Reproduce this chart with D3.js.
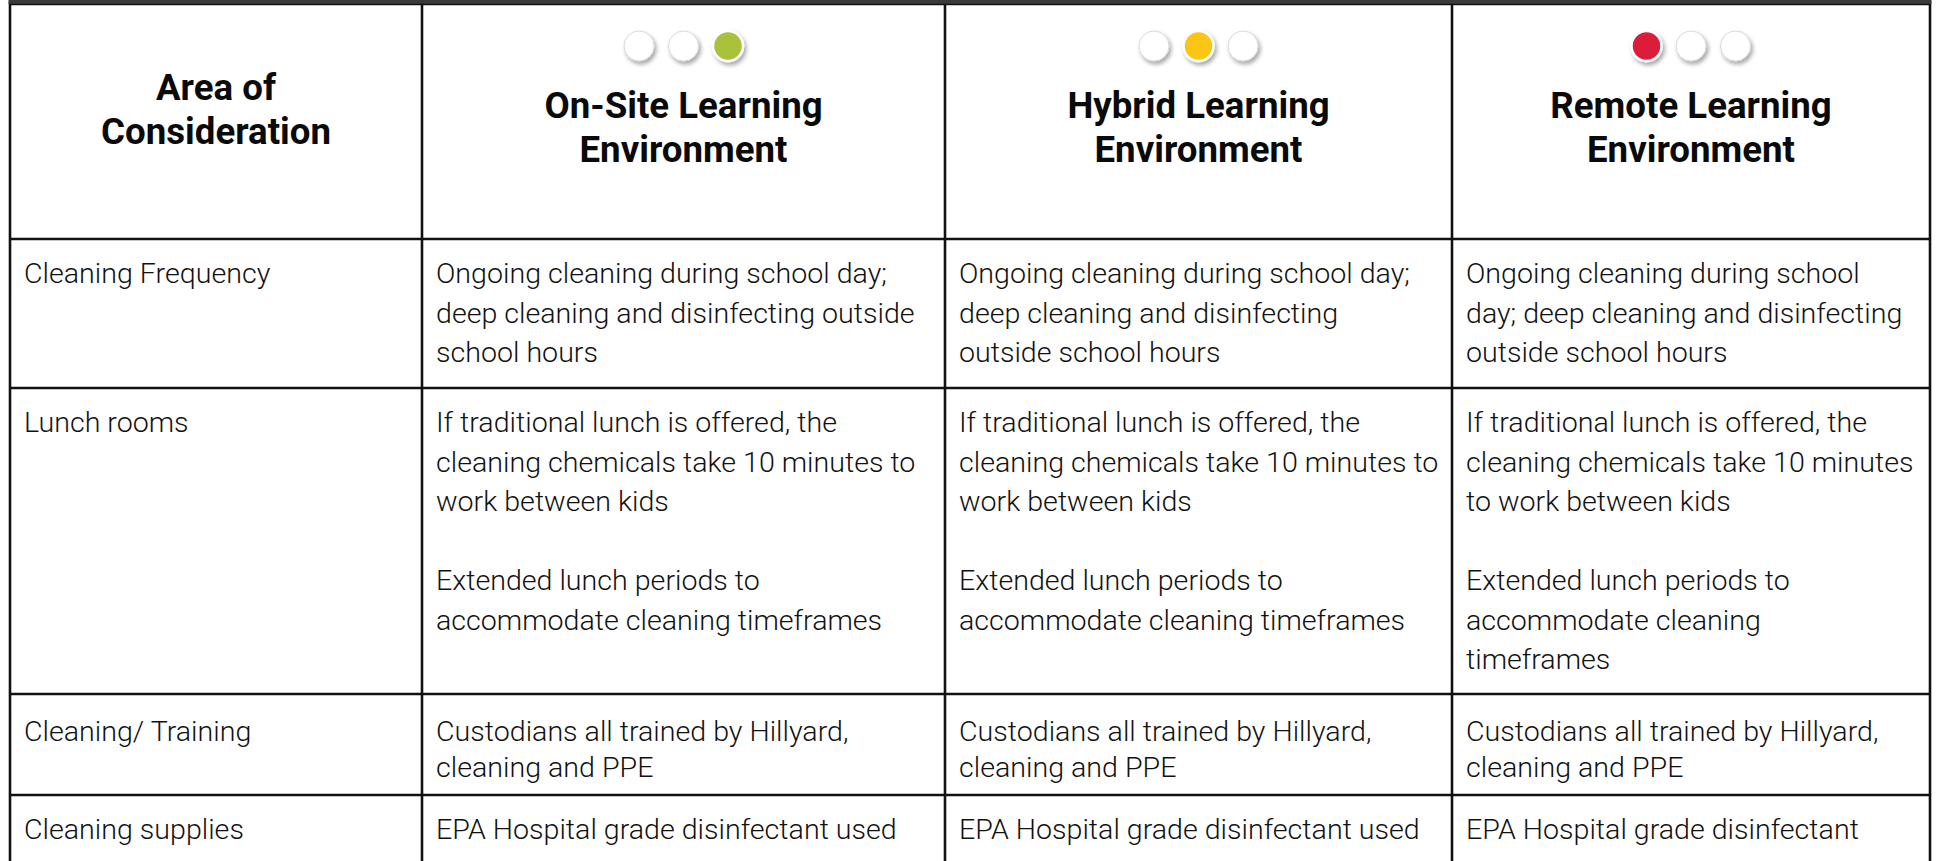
<!DOCTYPE html>
<html><head><meta charset="utf-8">
<script src="https://cdn.jsdelivr.net/npm/d3@7"></script>
<style>html,body{margin:0;padding:0;background:#fff;overflow:hidden}</style>
</head><body><svg id="chart"></svg>
<script>
// ---------- data ----------
const columnHeaders = [
  ["Area of", "Consideration"],
  ["On-Site Learning", "Environment"],
  ["Hybrid Learning", "Environment"],
  ["Remote Learning", "Environment"]
];
const signalLights = [
  null,
  ["off", "off", "green"],
  ["off", "yellow", "off"],
  ["red", "off", "off"]
];
const areas = [
  ["Cleaning Frequency"],
  ["Lunch rooms"],
  ["Cleaning/ Training"],
  ["Cleaning supplies"]
];
const onSite = [
  ["Ongoing cleaning during school day;", "deep cleaning and disinfecting outside", "school hours"],
  ["If traditional lunch is offered, the", "cleaning chemicals take 10 minutes to", "work between kids", "", "Extended lunch periods to", "accommodate cleaning timeframes"],
  ["Custodians all trained by Hillyard,", "cleaning and PPE"],
  ["EPA Hospital grade disinfectant used"]
];
const hybrid = [
  ["Ongoing cleaning during school day;", "deep cleaning and disinfecting", "outside school hours"],
  ["If traditional lunch is offered, the", "cleaning chemicals take 10 minutes to", "work between kids", "", "Extended lunch periods to", "accommodate cleaning timeframes"],
  ["Custodians all trained by Hillyard,", "cleaning and PPE"],
  ["EPA Hospital grade disinfectant used"]
];
const remote = [
  ["Ongoing cleaning during school", "day; deep cleaning and disinfecting", "outside school hours"],
  ["If traditional lunch is offered, the", "cleaning chemicals take 10 minutes", "to work between kids", "", "Extended lunch periods to", "accommodate cleaning", "timeframes"],
  ["Custodians all trained by Hillyard,", "cleaning and PPE"],
  ["EPA Hospital grade disinfectant"]
];

// ---------- layout / style ----------
const W = 1937, H = 861;
const colEdges = [10, 422, 945, 1452, 1930];
const headerBottom = 239;
const rowHeights = [149, 306, 101, 120];      // layout of the table rows
const rowFirstBase = [44, 44, 47, 44];        // first baseline offset inside each row
const rowLineH = [39.5, 39.5, 35.5, 39.5];    // line spacing inside each row
const cellPadX = 14;
const bodySize = 28, headSize = 36;
const lightColors = {off: "#ffffff", green: "#a9c23a", yellow: "#fbc515", red: "#dc1d3b"};
const fontFam = "Roboto, 'Noto Sans', sans-serif";

const svg = d3.select("#chart").attr("width", W).attr("height", H)
  .style("font-family", fontFam);

const defs = svg.append("defs");
const f = defs.append("filter").attr("id", "shadow").attr("x", "-50%").attr("y", "-50%").attr("width", "200%").attr("height", "200%");
f.append("feDropShadow").attr("dx", 2).attr("dy", 3).attr("stdDeviation", 2.2)
  .attr("flood-color", "#000").attr("flood-opacity", 0.35);

// measure helper for horizontal condensing (font substitute is wider than original)
function measure(str, size, weight) {
  const t = svg.append("text").attr("font-size", size).attr("font-weight", weight).text(str);
  const w = t.node().getComputedTextLength();
  t.remove();
  return w;
}
const bodyWeight = 300;
const bodySX = 451 / measure("Ongoing cleaning during school day;", bodySize, bodyWeight);
const headSX = 230 / measure("Consideration", headSize, 700);

// rows
const columns = [areas, onSite, hybrid, remote];
const rows = areas.map((a, i) => columns.map(c => c[i]));
const rowTops = [];
let y = headerBottom;
rowHeights.forEach(h => { rowTops.push(y); y += h; });
const rowEdges = rowTops.concat([y]);

const x = d3.scaleOrdinal().domain(d3.range(4)).range(colEdges.slice(0, 4));
const colMid = i => (colEdges[i] + colEdges[i + 1]) / 2;

// ---------- header ----------
const head = svg.append("g");
columnHeaders.forEach((lines, i) => {
  const hasLights = signalLights[i] != null;
  const base0 = hasLights ? 118 : 100;
  lines.forEach((ln, k) => {
    head.append("text")
      .attr("transform", `translate(${colMid(i)},${base0 + k * 44}) scale(${headSX},1)`)
      .attr("text-anchor", "middle").attr("font-size", headSize).attr("font-weight", 700)
      .attr("fill", "#0a0a0a").text(ln);
  });
  if (hasLights) {
    const lx = d3.scalePoint().domain(d3.range(3)).range([colMid(i) - 44.5, colMid(i) + 44.5]);
    head.selectAll(null).data(signalLights[i]).enter().append("circle")
      .attr("cx", (d, k) => lx(k)).attr("cy", 46).attr("r", 15)
      .attr("fill", d => lightColors[d])
      .attr("stroke", d => d === "off" ? "#d8d8d8" : "#ffffff")
      .attr("stroke-width", d => d === "off" ? 1 : 2.5)
      .attr("filter", "url(#shadow)");
  }
});

// ---------- body ----------
const body = svg.append("g");
rows.forEach((cells, r) => {
  cells.forEach((lines, c) => {
    lines.forEach((ln, k) => {
      if (!ln) return;
      body.append("text")
        .attr("transform", `translate(${x(c) + cellPadX},${rowTops[r] + rowFirstBase[r] + k * rowLineH[r]}) scale(${bodySX},1)`)
        .attr("font-size", bodySize).attr("font-weight", bodyWeight).attr("fill", "#111").text(ln);
    });
  });
});

// ---------- grid ----------
const grid = svg.append("g").attr("stroke", "#111").attr("stroke-width", 2.6);
grid.selectAll(null).data([headerBottom].concat(rowEdges.slice(1, rowEdges.length - 1))).enter().append("line")
  .attr("x1", colEdges[0]).attr("x2", colEdges[4]).attr("y1", d => d).attr("y2", d => d);
grid.selectAll(null).data(colEdges).enter().append("line")
  .attr("x1", d => d).attr("x2", d => d).attr("y1", 2).attr("y2", H + 10);
svg.append("rect").attr("x", colEdges[0] - 1.5).attr("y", 0).attr("width", colEdges[4] - colEdges[0] + 3).attr("height", 4)
  .attr("fill", "#3a3a3a");
svg.append("line").attr("x1", colEdges[0]).attr("x2", colEdges[4]).attr("y1", 4.5).attr("y2", 4.5)
  .attr("stroke", "#111").attr("stroke-width", 1.5);
</script></body></html>
